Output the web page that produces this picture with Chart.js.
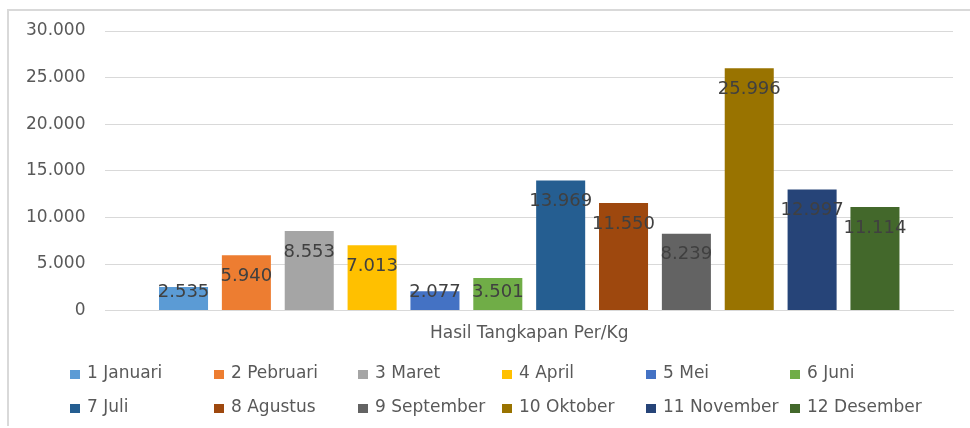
<!DOCTYPE html>
<html>
<head>
<meta charset="utf-8">
<script src="https://cdn.jsdelivr.net/npm/chart.js@4"></script>
<style>
    body { margin: 0; background: #fff; }
    #wrap { position: relative; width: 970px; height: 428px; }
    #frame { position: absolute; left: 7px; top: 9px; right: 0; height: 415px; border-top: 2px solid #d9d9d9; border-left: 2px solid #d9d9d9; }
    canvas { position: absolute; left: 0; top: 0; }
</style>
</head>
<body>
<div id="wrap">
    <div id="frame"></div>
    <canvas id="catchChart" width="970" height="428"></canvas>
</div>
<script>
const category = ['Hasil Tangkapan Per/Kg'];
const months = ['1 Januari', '2 Pebruari', '3 Maret', '4 April', '5 Mei', '6 Juni',
    '7 Juli', '8 Agustus', '9 September', '10 Oktober', '11 November', '12 Desember'];
const catchKg = [2535, 5940, 8553, 7013, 2077, 3501, 13969, 11550, 8239, 25996, 12997, 11114];
const colors = ['#5B9BD5', '#ED7D31', '#A5A5A5', '#FFC000', '#4472C4', '#70AD47',
    '#255E91', '#9E480E', '#636363', '#997300', '#264478', '#43682B'];

const fontFamily = '"DejaVu Sans", sans-serif';

function fmt(v) {
    return String(v).replace(/\B(?=(\d{3})+(?!\d))/g, '.');
}

// value labels near the top inside each bar
const valueLabels = {
    id: 'valueLabels',
    afterDatasetsDraw(chart) {
        const ctx = chart.ctx;
        const base = chart.scales.y.getPixelForValue(0);
        ctx.save();
        ctx.font = '18px ' + fontFamily;
        ctx.fillStyle = '#404040';
        ctx.textAlign = 'center';
        ctx.textBaseline = 'middle';
        chart.data.datasets.forEach((ds, i) => {
            const bar = chart.getDatasetMeta(i).data[0];
            const y = Math.min(bar.y + 21, base - 18);
            ctx.fillText(fmt(ds.data[0]), bar.x, y);
        });
        ctx.restore();
    }
};

// legend in a fixed grid of 2 rows x 6 columns
const gridLegend = {
    id: 'gridLegend',
    afterDraw(chart) {
        const ctx = chart.ctx;
        ctx.save();
        ctx.font = '17px ' + fontFamily;
        ctx.textBaseline = 'middle';
        chart.data.datasets.forEach((ds, i) => {
            const col = i % 6;
            const row = Math.floor(i / 6);
            const x = 70 + col * 144;
            const y = 374 + row * 34;
            ctx.fillStyle = ds.backgroundColor;
            ctx.fillRect(x, y - 4, 10, 9);
            ctx.fillStyle = '#595959';
            ctx.fillText(ds.label, x + 17, y);
        });
        ctx.restore();
    }
};

const ctx = document.getElementById('catchChart').getContext('2d');
new Chart(ctx, {
    type: 'bar',
    data: {
        labels: category,
        datasets: months.map((m, i) => ({
            label: m,
            data: [catchKg[i]],
            backgroundColor: colors[i],
            categoryPercentage: 0.89,
            barPercentage: 0.78
        }))
    },
    options: {
        responsive: false,
        animation: false,
        layout: { padding: { left: 6, right: 17, top: 31, bottom: 79 } },
        plugins: {
            legend: { display: false },
            tooltip: { enabled: false }
        },
        scales: {
            x: {
                grid: { display: false },
                border: { color: '#d9d9d9' },
                ticks: { color: '#595959', font: { family: fontFamily, size: 17 }, padding: 5 }
            },
            y: {
                min: 0,
                max: 30000,
                ticks: {
                    stepSize: 5000,
                    color: '#595959',
                    font: { family: fontFamily, size: 17 },
                    padding: 20,
                    callback: v => fmt(v)
                },
                grid: { color: '#d9d9d9', drawTicks: false },
                border: { display: false }
            }
        }
    },
    plugins: [valueLabels, gridLegend]
});
</script>
</body>
</html>
